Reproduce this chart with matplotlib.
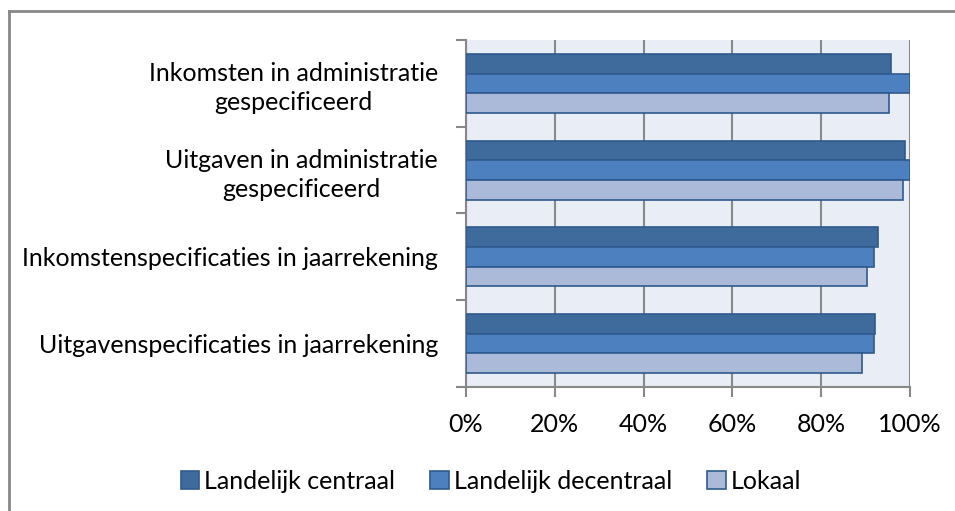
import numpy as np
import matplotlib.pyplot as plt
from matplotlib.lines import Line2D

categories = [
    "Inkomsten in administratie\ngespecificeerd",
    "Uitgaven in administratie\ngespecificeerd",
    "Inkomstenspecificaties in jaarrekening",
    "Uitgavenspecificaties in jaarrekening",
]
series = ["Landelijk centraal", "Landelijk decentraal", "Lokaal"]
centraal = [95.7, 98.9, 92.8, 92.1]
decentraal = [100.0, 100.0, 91.9, 91.9]
lokaal = [95.3, 98.4, 90.3, 89.2]
xticks = [0, 20, 40, 60, 80, 100]

colors = ["#3F6A9C", "#4D80BE", "#AABAD8"]
edge = "#2E5A8E"

plt.rcParams["font.family"] = ["Lato", "DejaVu Sans"]

fig = plt.figure(figsize=(9.55, 5.11), dpi=100)
ax = fig.add_axes([466 / 955, 1 - 387 / 511, 444 / 955, 347 / 511])
ax.set_facecolor("#E9EDF5")

y = np.arange(len(categories))
h = 0.227
for k, (vals, name) in enumerate(zip([centraal, decentraal, lokaal], series)):
    ax.barh(y + (k - 1) * h, vals, height=h, color=colors[k],
            edgecolor=edge, linewidth=1.2, label=name, zorder=3)

ax.set_xlim(0, 100)
ax.set_ylim(3.5, -0.5)
ax.set_xticks(xticks)
ax.set_xticklabels([f"{v}%" for v in xticks], fontsize=18)
ax.set_yticks(y)
ax.set_yticklabels(categories, fontsize=18, ha="right", multialignment="center",
                   linespacing=1.3)
ax.set_yticks(np.arange(-0.5, 4, 1), minor=True)
ax.tick_params(axis="y", which="major", length=0, pad=20)
ax.tick_params(axis="y", which="minor", length=7, width=1.5, color="#888888")
ax.tick_params(axis="x", length=7, width=1.5, color="#888888", pad=12)
ax.grid(axis="x", color="#888888", linewidth=1.5, zorder=1)

for s in ["top", "right"]:
    ax.spines[s].set_visible(False)
for s in ["left", "bottom"]:
    ax.spines[s].set_color("#888888")
    ax.spines[s].set_linewidth(1.5)

handles, labels = ax.get_legend_handles_labels()
fig.legend(handles, labels, loc="center", bbox_to_anchor=(491 / 955, 1 - 481 / 511),
           ncol=3, frameon=False, fontsize=18, handlelength=0.75, handleheight=0.75,
           handletextpad=0.2, columnspacing=1.4)

fig.add_artist(Line2D([8.5 / 955, 8.5 / 955], [0, 1 - 11 / 511],
                      color="#888888", linewidth=2, transform=fig.transFigure))
fig.add_artist(Line2D([8.5 / 955, 1], [1 - 11 / 511, 1 - 11 / 511],
                      color="#888888", linewidth=2, transform=fig.transFigure))

fig.savefig("out.png", dpi=100)
